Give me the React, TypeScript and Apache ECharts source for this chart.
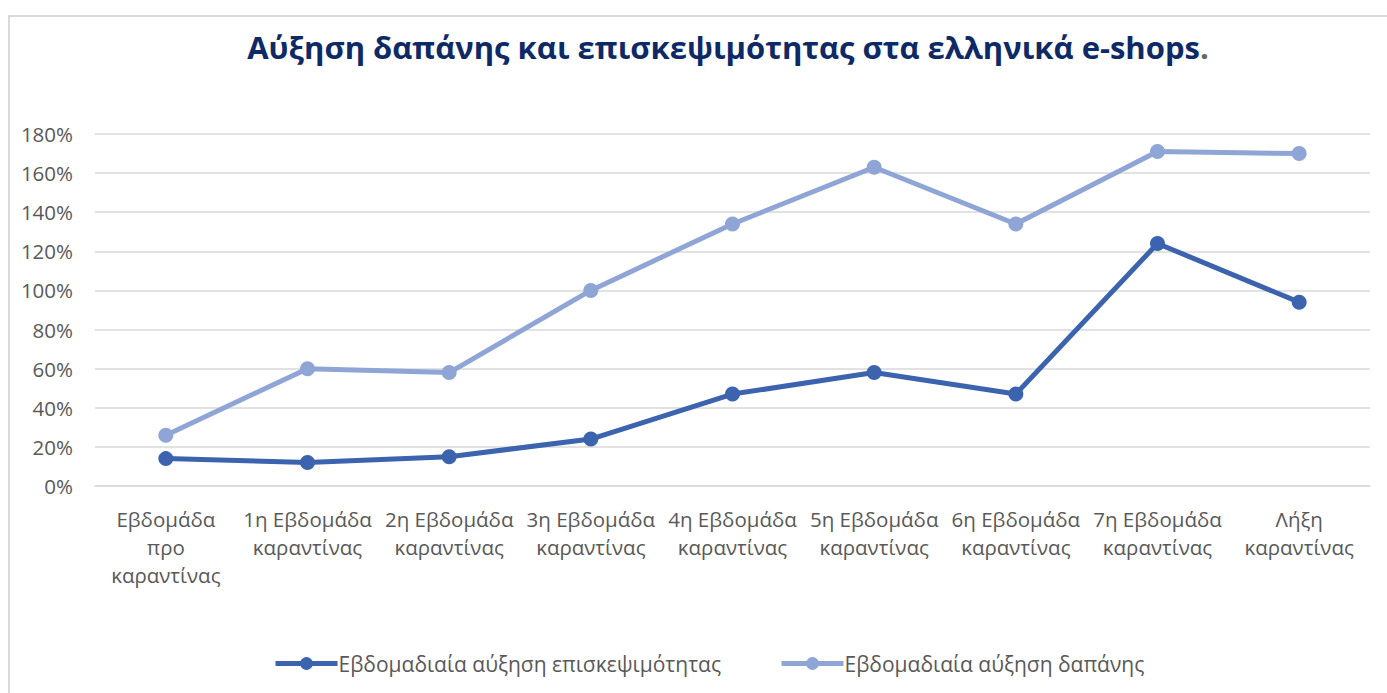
import React, { useEffect, useRef } from "react";
import * as echarts from "echarts";

const categories = [
  "Εβδομάδα\nπρο\nκαραντίνας",
  "1η Εβδομάδα\nκαραντίνας",
  "2η Εβδομάδα\nκαραντίνας",
  "3η Εβδομάδα\nκαραντίνας",
  "4η Εβδομάδα\nκαραντίνας",
  "5η Εβδομάδα\nκαραντίνας",
  "6η Εβδομάδα\nκαραντίνας",
  "7η Εβδομάδα\nκαραντίνας",
  "Λήξη\nκαραντίνας",
];
const visitsName = "Εβδομαδιαία αύξηση επισκεψιμότητας";
const spendName = "Εβδομαδιαία αύξηση δαπάνης";
const visits = [14, 12, 15, 24, 47, 58, 47, 124, 94];
const spend = [26, 60, 58, 100, 134, 163, 134, 171, 170];
const titleText = "Αύξηση δαπάνης και επισκεψιμότητας στα ελληνικά e-shops";

const DARK = "#3C64AE";
const LIGHT = "#8FA5D6";
const FONT = "'Open Sans', 'Noto Sans', sans-serif";

export default function App() {
  const ref = useRef<HTMLDivElement>(null);
  useEffect(() => {
    const chart = echarts.init(ref.current!, null, { renderer: "svg" });
    chart.setOption({
      animation: false,
      backgroundColor: "#ffffff",
      graphic: [
        {
          type: "rect",
          shape: { x: 9, y: 16, width: 1400, height: 700 },
          style: { fill: "none", stroke: "#d9d9d9", lineWidth: 2 },
          silent: true,
        },
      ],
      title: {
        text: `{t|${titleText}}{d|.}`,
        left: 723,
        textAlign: "center",
        top: 26,
        textStyle: {
          rich: {
            t: { fontSize: 31, fontWeight: "bold", color: "#0E2A66", fontFamily: FONT },
            d: { fontSize: 31, fontWeight: "bold", color: "#666666", fontFamily: FONT },
          },
        },
      },
      legend: {
        bottom: 14,
        left: 268,
        itemGap: 58,
        itemWidth: 62,
        itemHeight: 16,
        lineStyle: { width: 5 },
        textStyle: { fontSize: 21, color: "#595959", fontFamily: FONT, padding: [0, 0, 0, -4] },
        data: [visitsName, spendName],
      },
      grid: { left: 95, right: 17, top: 134, bottom: 207, containLabel: false },
      xAxis: {
        type: "category",
        data: categories,
        boundaryGap: true,
        axisLine: { lineStyle: { color: "#d9d9d9", width: 1.5 } },
        axisTick: { show: false },
        axisLabel: {
          interval: 0,
          color: "#595959",
          fontSize: 20.5,
          fontFamily: FONT,
          lineHeight: 28,
          margin: 19,
        },
      },
      yAxis: {
        type: "value",
        min: 0,
        max: 180,
        interval: 20,
        axisLine: { show: false },
        axisTick: { show: false },
        splitLine: { lineStyle: { color: "#d9d9d9", width: 1.5 } },
        axisLabel: {
          formatter: "{value}%",
          color: "#595959",
          fontSize: 20.5,
          fontFamily: FONT,
          margin: 22,
        },
      },
      series: [
        {
          name: visitsName,
          type: "line",
          data: visits,
          color: DARK,
          lineStyle: { width: 5, color: DARK },
          symbol: "circle",
          symbolSize: 15,
          itemStyle: { color: DARK },
        },
        {
          name: spendName,
          type: "line",
          data: spend,
          color: LIGHT,
          lineStyle: { width: 5, color: LIGHT },
          symbol: "circle",
          symbolSize: 15,
          itemStyle: { color: LIGHT },
        },
      ],
    });
    return () => chart.dispose();
  }, []);
  return (
    <div
      ref={ref}
      style={{ position: "absolute", left: 0, top: 0, width: 1387, height: 693 }}
    />
  );
}
